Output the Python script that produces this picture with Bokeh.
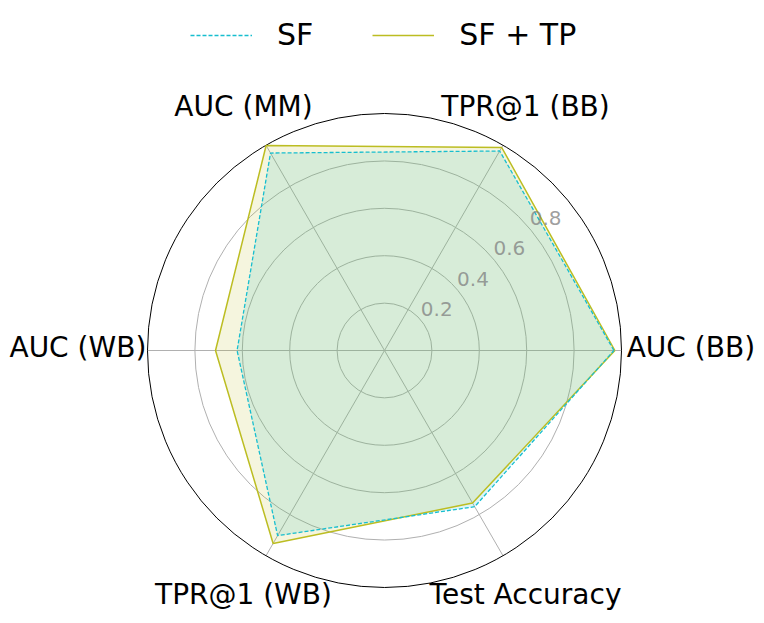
import numpy as np
from bokeh.plotting import figure
from bokeh.models import Range1d, Legend, LegendItem, ColumnDataSource
from bokeh.embed import file_html
from bokeh.resources import INLINE
from bokeh.core.properties import value

# ---- data ----
categories = ["AUC (BB)", "TPR@1 (BB)", "AUC (MM)", "AUC (WB)", "TPR@1 (WB)", "Test Accuracy"]
sf = [0.968, 0.972, 0.962, 0.622, 0.902, 0.761]
sf_tp = [0.972, 0.989, 0.999, 0.713, 0.940, 0.743]
grid_levels = [0.2, 0.4, 0.6, 0.8]
tick_labels = ["0.2", "0.4", "0.6", "0.8"]
series_names = ["SF", "SF + TP"]

CYAN = "#17becf"
OLIVE = "#bcbd22"
FONT = "DejaVu Sans"

W, H = 760, 618
SCALE = 237.0          # pixels per unit radius
CX, CY = 384.0, 350.0  # centre in figure pixels (from top-left)

p = figure(width=W, height=H, output_backend="svg", toolbar_location=None,
           x_range=Range1d(-CX / SCALE, (W - CX) / SCALE),
           y_range=Range1d(-(H - CY) / SCALE, CY / SCALE),
           x_axis_location=None, y_axis_location=None,
           min_border=0, min_border_left=0, min_border_right=0,
           min_border_top=0, min_border_bottom=0)
p.outline_line_color = None
p.xgrid.visible = False
p.ygrid.visible = False

n = len(categories)
angles = np.deg2rad(np.arange(n) * 360.0 / n)

# grid circles
p.circle(x=[0] * len(grid_levels), y=[0] * len(grid_levels), radius=grid_levels,
         fill_color=None, line_color="#b0b0b0", line_width=1)
# spokes
p.segment(x0=[0] * n, y0=[0] * n, x1=np.cos(angles), y1=np.sin(angles),
          line_color="#b0b0b0", line_width=1)
# outer circle
p.circle(x=[0], y=[0], radius=[1.0], fill_color=None, line_color="black", line_width=1)


def closed(vals):
    v = np.array(vals + vals[:1])
    a = np.concatenate([angles, angles[:1]])
    return v * np.cos(a), v * np.sin(a)


xs1, ys1 = closed(sf)
xs2, ys2 = closed(sf_tp)

p.patch(xs1, ys1, fill_color=CYAN, fill_alpha=0.15, line_color=None)
p.patch(xs2, ys2, fill_color=OLIVE, fill_alpha=0.15, line_color=None)
l2 = p.line(xs2, ys2, line_color=OLIVE, line_width=1.5)
l1 = p.line(xs1, ys1, line_color=CYAN, line_width=1.3, line_dash="4 2")

# radial tick labels
ta = np.deg2rad(40)
p.text(x=[g * np.cos(ta) for g in grid_levels], y=[g * np.sin(ta) for g in grid_levels],
       text=tick_labels, text_font=value(FONT), text_font_size="20px",
       text_color="gray", text_alpha=0.75, text_align="left",
       text_baseline="alphabetic", y_offset=-11)

# category labels
lx, ly, la, lo = [], [], [], []
for a in angles:
    c = np.cos(a)
    if c > 0.99:
        r, al, off = 1.022, "left", -3
    elif c < -0.99:
        r, al, off = 1.005, "right", -3
    else:
        r, al, off = 1.19, "center", 0
    lx.append(r * np.cos(a))
    ly.append(r * np.sin(a))
    la.append(al)
    lo.append(off)
src = ColumnDataSource(dict(x=lx, y=ly, t=categories, al=la, off=lo))
p.text(x="x", y="y", text="t", text_align="al", y_offset="off", source=src,
       text_font=value(FONT), text_font_size="28px", text_color="black",
       text_baseline="middle")

legend = Legend(items=[LegendItem(label=series_names[0], renderers=[l1]),
                       LegendItem(label=series_names[1], renderers=[l2])],
                orientation="horizontal", location=(190, H - 52),
                border_line_color=None, background_fill_alpha=0,
                label_text_font=FONT, label_text_font_size="30px",
                label_text_color="black", glyph_width=62, glyph_height=30,
                label_standoff=25, spacing=59, padding=0, margin=0)
p.add_layout(legend)

open("out.html", "w").write(file_html(p, INLINE))
